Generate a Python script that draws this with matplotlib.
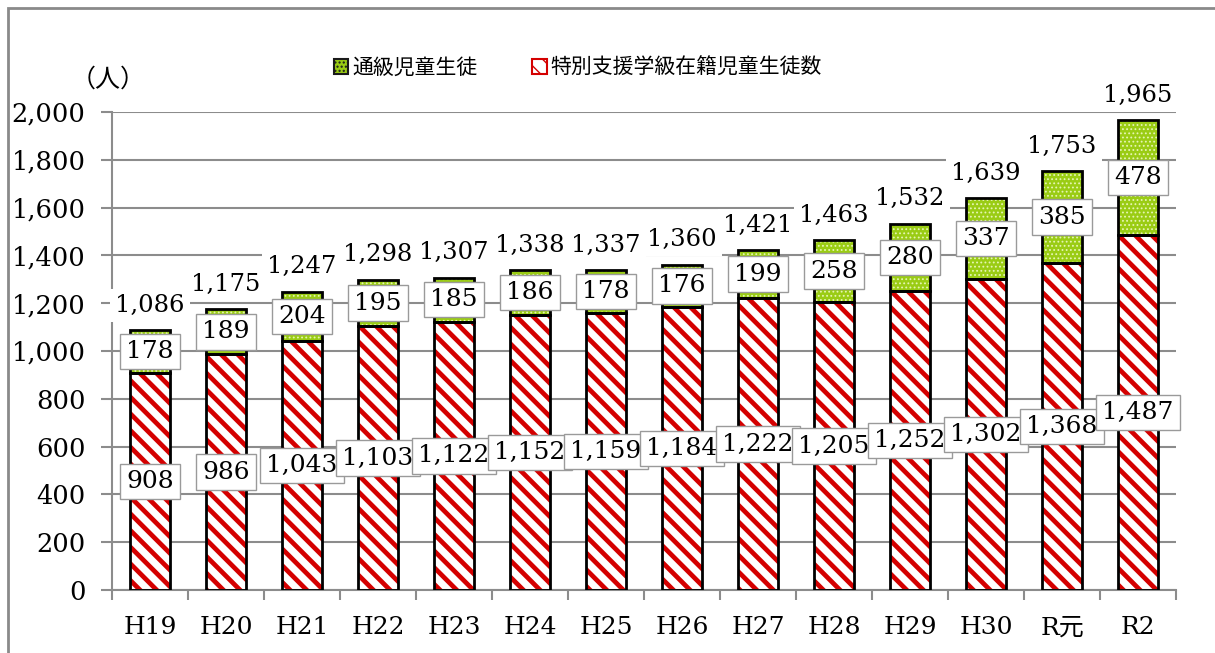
import matplotlib
matplotlib.use("Agg")
import matplotlib.pyplot as plt
from matplotlib.patches import Patch, Rectangle
from matplotlib.ticker import FuncFormatter

years     = ["H19", "H20", "H21", "H22", "H23", "H24", "H25",
             "H26", "H27", "H28", "H29", "H30", "R元", "R2"]
special   = [908, 986, 1043, 1103, 1122, 1152, 1159,
             1184, 1222, 1205, 1252, 1302, 1368, 1487]
tsukyu    = [178, 189, 204, 195, 185, 186, 178,
             176, 199, 258, 280, 337, 385, 478]
totals    = [a + b for a, b in zip(special, tsukyu)]

num_font = ["DejaVu Serif", "Noto Sans CJK JP"]
jp_font  = ["Noto Sans CJK JP", "DejaVu Sans"]

RED   = "#d40000"
GREEN = "#9acc14"
DOTS  = "#e6f5b4"
GRID  = "#8c8c8c"

fig = plt.figure(figsize=(12.15, 6.53), dpi=100)
ax = fig.add_axes([112 / 1215, 1 - 590 / 653, 1064 / 1215, 478 / 653])

x = list(range(len(years)))
w = 0.53

# bottom segment: red diagonal stripes on white
red_bars = ax.bar(x, special, width=w, color="white", edgecolor=RED,
                  hatch="\\\\", linewidth=0, zorder=2)
# top segment: green with pale dots
green_bars = ax.bar(x, tsukyu, bottom=special, width=w, color=GREEN,
                    edgecolor=DOTS, hatch="....", linewidth=0, zorder=2)
for b in red_bars:
    if hasattr(b, "set_hatch_linewidth"):
        b.set_hatch_linewidth(3.4)
for b in green_bars:
    if hasattr(b, "set_hatch_linewidth"):
        b.set_hatch_linewidth(0.8)
# black outlines
ax.bar(x, special, width=w, fill=False, edgecolor="black", linewidth=2, zorder=3)
ax.bar(x, tsukyu, bottom=special, width=w, fill=False, edgecolor="black",
       linewidth=2, zorder=3)

seg_box = dict(boxstyle="square,pad=0.25", facecolor="white", edgecolor="#9a9a9a", linewidth=1)
for i in x:
    ax.text(i, special[i] / 2, f"{special[i]:,}", ha="center", va="center",
            fontsize=18, family=num_font, bbox=seg_box, zorder=5)
    ax.text(i, special[i] + tsukyu[i] / 2, f"{tsukyu[i]:,}", ha="center", va="center",
            fontsize=18, family=num_font, bbox=seg_box, zorder=5)
    ax.annotate(f"{totals[i]:,}", (i, totals[i]), xytext=(0, 18),
                textcoords="offset points", ha="center", va="center",
                fontsize=17.5, family=num_font, annotation_clip=False,
                bbox=dict(boxstyle="square,pad=0.2", facecolor="white", edgecolor="none"),
                zorder=4)

ax.set_xlim(-0.5, len(years) - 0.5)
ax.set_ylim(0, 2000)
ax.set_yticks(range(0, 2001, 200))
ax.yaxis.set_major_formatter(FuncFormatter(lambda v, p: f"{int(v):,}"))
ax.set_xticks([i - 0.5 for i in range(len(years) + 1)], minor=False)
ax.set_xticklabels([])
ax.set_xticks(x, minor=True)
ax.set_xticklabels(years, minor=True)
ax.tick_params(axis="x", which="minor", length=0, pad=19, labelsize=18)
ax.tick_params(axis="x", which="major", length=7, width=1.5, color=GRID, direction="out")
ax.tick_params(axis="y", length=8, width=1.5, color=GRID, pad=11, labelsize=18.5)
for lbl in ax.get_xticklabels(minor=True) + ax.get_yticklabels():
    lbl.set_family(num_font)
for lbl in ax.get_yticklabels():
    lbl.set_horizontalalignment("right")

ax.grid(axis="y", color=GRID, linewidth=1.5, zorder=0)
ax.set_axisbelow(True)
for s in ["top", "right"]:
    ax.spines[s].set_visible(False)
for s in ["left", "bottom"]:
    ax.spines[s].set_color(GRID)
    ax.spines[s].set_linewidth(1.5)

fig.text(108 / 1215, 1 - 80 / 653, "（人）", ha="center", va="center",
         fontsize=18, family=jp_font)

handles = [
    Patch(facecolor=GREEN, edgecolor="#1a1a1a", hatch="....", linewidth=1.5),
    Patch(facecolor="white", edgecolor=RED, hatch="\\\\", linewidth=1.5),
]
leg = fig.legend(handles, ["通級児童生徒", "特別支援学級在籍児童生徒数"],
                 loc="center", bbox_to_anchor=(578 / 1215, 1 - 68 / 653), ncol=2,
                 frameon=False, prop={"family": jp_font, "size": 15},
                 handlelength=0.7, handleheight=0.7, handletextpad=0.2,
                 columnspacing=2.6)

fig.patches.append(Rectangle((8 / 1215, -0.05), 1.1, 1 - 8 / 653 + 0.05,
                             transform=fig.transFigure, fill=False,
                             edgecolor="#8a8a8a", linewidth=2))

fig.savefig("out.png", dpi=100, facecolor="white")
